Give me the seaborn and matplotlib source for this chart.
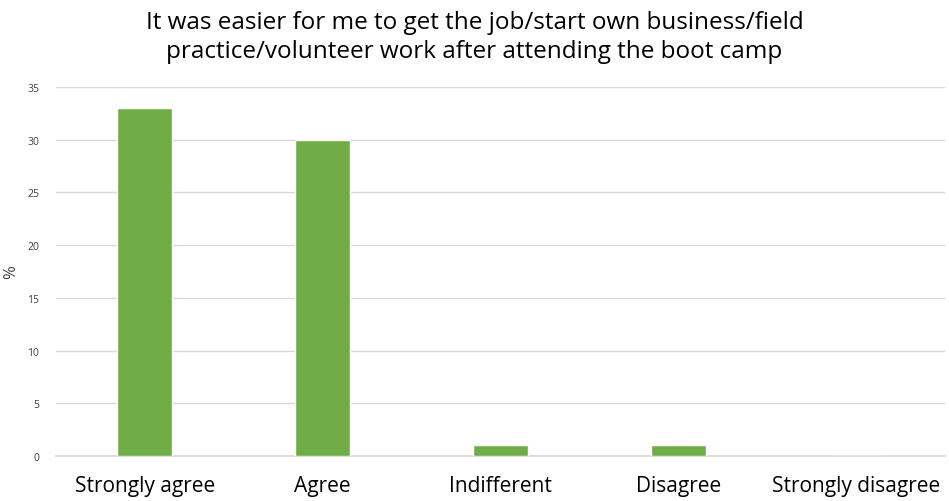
import matplotlib
matplotlib.use("Agg")
import matplotlib.pyplot as plt
import seaborn as sns
import pandas as pd

categories = ["Strongly agree", "Agree", "Indifferent", "Disagree", "Strongly disagree"]
percent = [33, 30, 1, 1, 0]
y_ticks = [0, 5, 10, 15, 20, 25, 30, 35]

sns.set_theme(style="white")
plt.rcParams["font.family"] = ["Open Sans", "DejaVu Sans"]

df = pd.DataFrame({"category": categories, "percent": percent})

fig = plt.figure(figsize=(9.49, 5.02), dpi=100)
ax = fig.add_axes([0.059, 0.0896, 0.937, 0.7351])

sns.barplot(data=df, x="category", y="percent", color="#70AD47",
            width=0.31, saturation=1, ax=ax, zorder=3)

ax.set_ylim(0, 35)
ax.set_yticks(y_ticks)
ax.set_xlim(-0.5, len(categories) - 0.5)
ax.yaxis.grid(True, color="#d9d9d9", linewidth=1, zorder=0)
ax.set_axisbelow(True)
for side in ["top", "right", "left"]:
    ax.spines[side].set_visible(False)
ax.spines["bottom"].set_color("#d9d9d9")
ax.tick_params(axis="y", labelsize=7.5, colors="#404040", length=0, pad=12)
ax.tick_params(axis="x", labelsize=15, colors="#000000", length=0, pad=14)
ax.set_xlabel("")
ax.set_ylabel("%", fontsize=12, color="#404040")
ax.yaxis.set_label_coords(-0.042, 0.5)

fig.suptitle("It was easier for me to get the job/start own business/field\n"
             "practice/volunteer work after attending the boot camp",
             fontsize=17.5, y=0.978, linespacing=1.25, color="#000000")

fig.savefig("out.png", dpi=100)
